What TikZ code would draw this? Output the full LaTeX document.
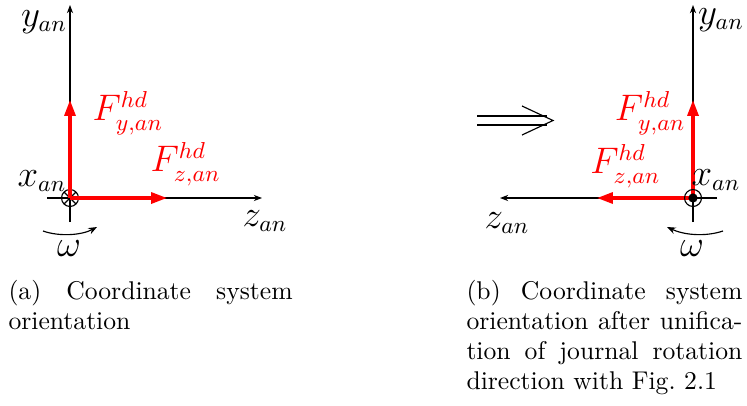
\documentclass[tikz,border=0pt]{standalone}
\usetikzlibrary{arrows.meta}
\DeclareMathSizes{13}{13.5}{8.8}{6.5}
\begin{document}
\begin{tikzpicture}[x=0.39pt,y=-0.39pt,
  axis/.style={draw=black, line width=0.45pt, -{Stealth[length=3.2pt,width=2.4pt]}},
  force/.style={draw=red, line width=1.2pt, -{Triangle[length=6.2pt,width=4.3pt]}},
  rot/.style={draw=black, line width=0.45pt, -{Stealth[length=3.4pt,width=2.6pt]}},
  thinline/.style={draw=black, line width=0.45pt},
  lbl/.style={inner sep=0pt, font=\fontsize{13}{13}\selectfont},
  redlbl/.style={lbl, text=red},
  captext/.style={inner sep=0pt, anchor=base west, font=\fontsize{10}{11.7}\selectfont}]
\useasboundingbox (0,0) rectangle (747,405);
% ---------- (a) ----------
\coordinate (Oa) at (70,198);
\coordinate (Yat) at (70,5);
\coordinate (Yab) at (70,222);
\coordinate (Zat) at (262,198);
\coordinate (Zab) at (47,198);
\coordinate (Fya) at (70,100);
\coordinate (Fza) at (167,198);
\draw[axis] (Yab) -- (Yat);
\draw[axis] (Zab) -- (Zat);
\draw[thinline] (Oa) circle[radius=3.3pt];
\draw[thinline] ([shift={(45:3.3pt)}]Oa) -- ([shift={(225:3.3pt)}]Oa);
\draw[thinline] ([shift={(135:3.3pt)}]Oa) -- ([shift={(315:3.3pt)}]Oa);
\draw[force] (Oa) -- (Fya);
\draw[force] (Oa) -- (Fza);
\coordinate (Wa1) at (43,231);
\coordinate (Wa2) at (97,227);
\draw[rot] (Wa1) .. controls (60,237) and (82,235) .. (Wa2);
\node[lbl] (ya) at (44,22) {$y_{an}$};
\node[lbl] (xa) at (42,181) {$x_{an}$};
\node[lbl] (za) at (265,221) {$z_{an}$};
\node[lbl] (wa) at (69,249) {$\omega$};
\node[redlbl, anchor=west] (fya) at (92,113) {$F^{hd}_{y,an}$};
\node[redlbl, anchor=west] (fza) at (150,164) {$F^{hd}_{z,an}$};
% ---------- implies ----------
\coordinate (I1) at (477,116);
\coordinate (I2) at (547,116);
\coordinate (I3) at (477,125);
\coordinate (I4) at (547,125);
\coordinate (H1) at (522,106);
\coordinate (H2) at (553,120.5);
\coordinate (H3) at (522,135);
\draw[thinline] (I1) -- (I2);
\draw[thinline] (I3) -- (I4);
\draw[thinline] (H1) -- (H2) -- (H3);
% ---------- (b) ----------
\coordinate (Ob) at (693,198);
\coordinate (Ybt) at (693,5);
\coordinate (Ybb) at (693,222);
\coordinate (Zbt) at (500,198);
\coordinate (Zbb) at (717,198);
\coordinate (Fyb) at (693,100);
\coordinate (Fzb) at (597,198);
\draw[axis] (Ybb) -- (Ybt);
\draw[axis] (Zbb) -- (Zbt);
\draw[force] (Ob) -- (Fyb);
\draw[force] (Ob) -- (Fzb);
\draw[thinline] (Ob) circle[radius=3.3pt];
\fill[black] (Ob) circle[radius=1.8pt];
\coordinate (Wb1) at (723,231);
\coordinate (Wb2) at (667,227);
\draw[rot] (Wb1) .. controls (705,237) and (684,235) .. (Wb2);
\node[lbl] (yb) at (721,20) {$y_{an}$};
\node[lbl] (xb) at (716,180) {$x_{an}$};
\node[lbl] (zb) at (507,223) {$z_{an}$};
\node[lbl] (wb) at (692,249) {$\omega$};
\node[redlbl, anchor=east] (fyb) at (686,113) {$F^{hd}_{y,an}$};
\node[redlbl, anchor=east] (fzb) at (661,166) {$F^{hd}_{z,an}$};
% ---------- captions ----------
\node[captext] (capa) at (8,299) {\parbox[t]{110.8pt}{(a) Coordinate system\linebreak orientation}};
\node[captext] (capb) at (466,299) {\parbox[t]{107.6pt}{(b) Coordinate system\linebreak orientation after unifica-\linebreak tion of journal rotation\linebreak direction with Fig.~2.1}};
\end{tikzpicture}
\end{document}
